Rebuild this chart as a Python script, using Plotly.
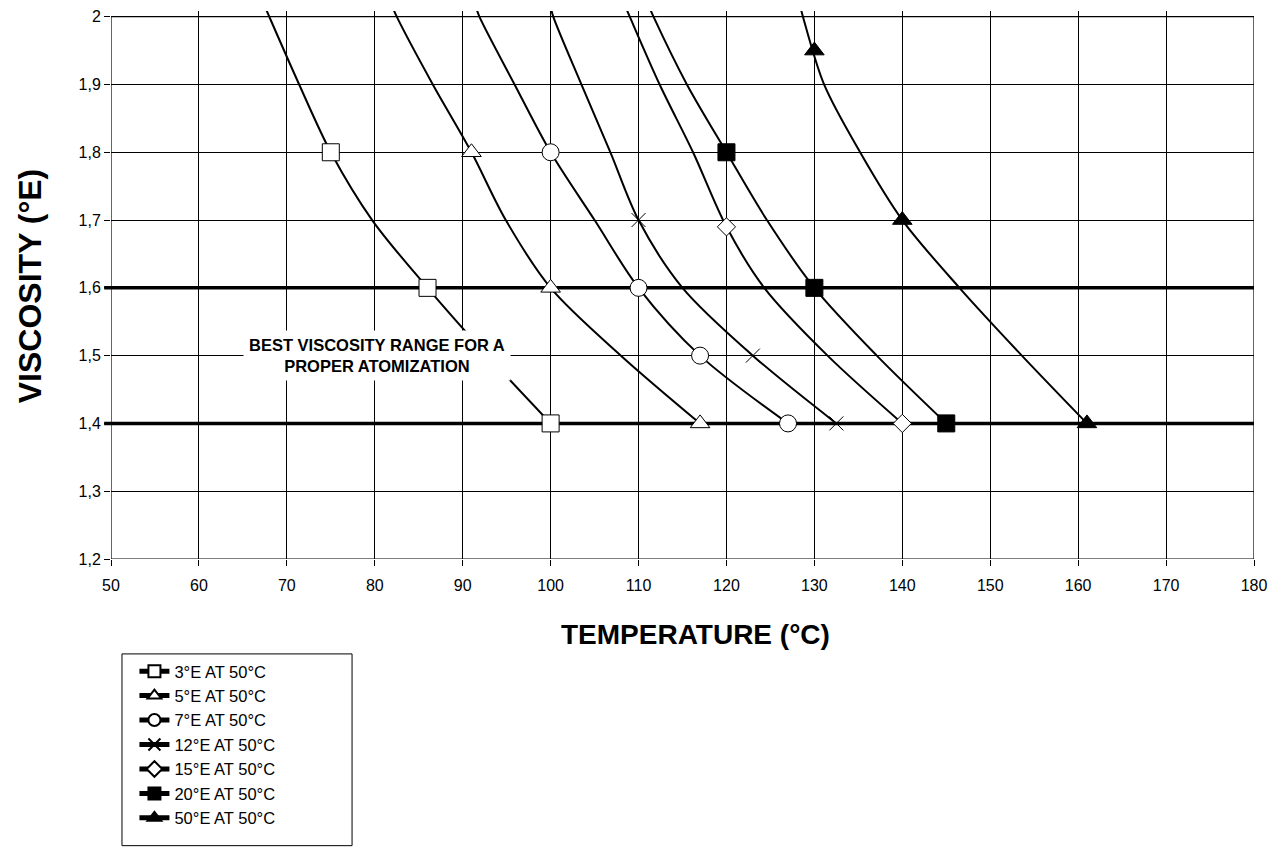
import plotly.graph_objects as go

# ---------------- data ----------------
series_names = ["3°E AT 50°C", "5°E AT 50°C", "7°E AT 50°C", "12°E AT 50°C",
                "15°E AT 50°C", "20°E AT 50°C", "50°E AT 50°C"]

# curve traces (where each curve crosses the gridlines)
line_3_x = [67.5, 68.0, 71.4, 75.0, 79.7, 86.0, 92.8, 100.0]
line_3_y = [2.015, 2.0, 1.9, 1.8, 1.7, 1.6, 1.5, 1.4]

line_5_x = [82.0, 82.5, 86.6, 91.0, 94.9, 100.0, 108.0, 117.0]
line_5_y = [2.015, 2.0, 1.9, 1.8, 1.7, 1.6, 1.5, 1.4]

line_7_x = [91.5, 91.9, 95.9, 100.0, 105.0, 110.0, 117.0, 127.0]
line_7_y = [2.015, 2.0, 1.9, 1.8, 1.7, 1.6, 1.5, 1.4]

line_12_x = [100.0, 100.3, 103.5, 106.8, 110.0, 115.0, 123.0, 132.5]
line_12_y = [2.015, 2.0, 1.9, 1.8, 1.7, 1.6, 1.5, 1.4]

line_15_x = [108.5, 109.0, 112.4, 116.2, 120.0, 124.3, 131.5, 140.0]
line_15_y = [2.015, 2.0, 1.9, 1.8, 1.69, 1.6, 1.5, 1.4]

line_20_x = [111.2, 111.7, 115.5, 120.0, 124.6, 130.0, 137.1, 145.0]
line_20_y = [2.015, 2.0, 1.9, 1.8, 1.7, 1.6, 1.5, 1.4]

line_50_x = [128.4, 128.7, 131.1, 135.2, 140.0, 146.5, 153.6, 161.0]
line_50_y = [2.015, 2.0, 1.9, 1.8, 1.7, 1.6, 1.5, 1.4]

# marked points
mark_3_x, mark_3_y = [75, 86, 100], [1.8, 1.6, 1.4]
mark_5_x, mark_5_y = [91, 100, 117], [1.8, 1.6, 1.4]
mark_7_x, mark_7_y = [100, 110, 117, 127], [1.8, 1.6, 1.5, 1.4]
mark_12_x, mark_12_y = [110, 123, 132.5], [1.7, 1.5, 1.4]
mark_15_x, mark_15_y = [120, 140], [1.69, 1.4]
mark_20_x, mark_20_y = [120, 130, 145], [1.8, 1.6, 1.4]
mark_50_x, mark_50_y = [130, 140, 161], [1.95, 1.7, 1.4]

x_ticks = [50, 60, 70, 80, 90, 100, 110, 120, 130, 140, 150, 160, 170, 180]
y_ticks = [1.2, 1.3, 1.4, 1.5, 1.6, 1.7, 1.8, 1.9, 2.0]
y_tick_labels = ["1,2", "1,3", "1,4", "1,5", "1,6", "1,7", "1,8", "1,9", "2"]
range_limits = [1.4, 1.6]

annotation_text = "BEST VISCOSITY RANGE FOR A<br>PROPER ATOMIZATION"
x_title = "TEMPERATURE (°C)"
y_title = "VISCOSITY (°E)"

# ---------------- styles ----------------
FONT = "Liberation Sans, Arial, sans-serif"
lines = [(line_3_x, line_3_y), (line_5_x, line_5_y), (line_7_x, line_7_y),
         (line_12_x, line_12_y), (line_15_x, line_15_y), (line_20_x, line_20_y),
         (line_50_x, line_50_y)]
marks = [(mark_3_x, mark_3_y), (mark_5_x, mark_5_y), (mark_7_x, mark_7_y),
         (mark_12_x, mark_12_y), (mark_15_x, mark_15_y), (mark_20_x, mark_20_y),
         (mark_50_x, mark_50_y)]
marker_styles = [
    dict(symbol="square", size=17, color="white", line=dict(color="black", width=1)),
    dict(symbol="triangle-up", size=17, color="white", line=dict(color="black", width=1)),
    dict(symbol="circle", size=17, color="white", line=dict(color="black", width=1)),
    dict(symbol="x-thin", size=14, color="black", line=dict(color="black", width=1)),
    dict(symbol="diamond", size=14, color="white", line=dict(color="black", width=1)),
    dict(symbol="square", size=17, color="black", line=dict(color="black", width=1)),
    dict(symbol="triangle-up", size=17, color="black", line=dict(color="black", width=1)),
]

fig = go.Figure()

for (lx, ly) in lines:
    fig.add_trace(go.Scatter(x=lx, y=ly, mode="lines",
                             line=dict(color="black", width=2, shape="spline", smoothing=0.9),
                             showlegend=False, hoverinfo="skip"))

for (mx, my), ms, name in zip(marks, marker_styles, series_names):
    fig.add_trace(go.Scatter(x=mx, y=my, mode="markers", marker=ms, name=name,
                             showlegend=False, cliponaxis=False))

# legend-only entries
for ms, name in zip(marker_styles, series_names):
    fig.add_trace(go.Scatter(x=[None], y=[None], mode="lines+markers", name=name,
                             line=dict(color="black", width=1), marker=ms))

shapes = []
for v in range_limits:
    shapes.append(dict(type="line", xref="paper", yref="y", x0=-0.006, x1=1, y0=v, y1=v,
                       line=dict(color="black", width=3.5), layer="between"))
# plot frame
shapes.append(dict(type="rect", xref="x", yref="y", x0=50, x1=180, y0=1.2, y1=2.0,
                   line=dict(color="black", width=1.2), layer="between"))
# legend box
shapes.append(dict(type="rect", xref="paper", yref="paper", x0=0.0096, x1=0.2109,
                   y0=-0.5231, y1=-0.1732, line=dict(color="black", width=1),
                   fillcolor="rgba(0,0,0,0)"))

fig.update_layout(
    width=1277, height=841,
    margin=dict(l=103, r=31, t=0, b=289.5),
    paper_bgcolor="white", plot_bgcolor="white",
    font=dict(family=FONT, size=16, color="black"),
    separators=", ",
    shapes=shapes,
    legend=dict(x=0.0205, y=-0.1732, xanchor="left", yanchor="top",
                bgcolor="rgba(0,0,0,0)", borderwidth=0,
                font=dict(family=FONT, size=16.5, color="black"),
                itemsizing="constant"),
    annotations=[
        dict(x=80.3, y=1.5, xref="x", yref="y", text="<b>" + annotation_text + "</b>",
             showarrow=False, bgcolor="white", borderpad=5, align="center",
             font=dict(family=FONT, size=16.5, color="black")),
        dict(x=0.5114, y=-0.1369, xref="paper", yref="paper", text="<b>" + x_title + "</b>",
             showarrow=False, xanchor="center", yanchor="middle",
             font=dict(family=FONT, size=28, color="black")),
        dict(x=-0.0709, y=0.4977, xref="paper", yref="paper", text="<b>" + y_title + "</b>",
             showarrow=False, textangle=-90, xanchor="center", yanchor="middle",
             font=dict(family=FONT, size=32, color="black")),
    ],
)

fig.update_xaxes(range=[50, 180], tickvals=x_ticks, showgrid=True, gridcolor="black",
                 gridwidth=1, zeroline=False, showline=False, ticks="outside",
                 ticklen=6, tickcolor="black", tickfont=dict(size=16),
                 ticklabelstandoff=6, ticklabeloverflow="allow")
fig.update_yaxes(range=[1.2, 2.0084], tickvals=y_ticks, ticktext=y_tick_labels,
                 showgrid=True, gridcolor="black", gridwidth=1, zeroline=False,
                 showline=False, ticks="outside", ticklen=6, tickcolor="black",
                 tickfont=dict(size=16), ticklabeloverflow="allow")

fig.write_html("out.html")
